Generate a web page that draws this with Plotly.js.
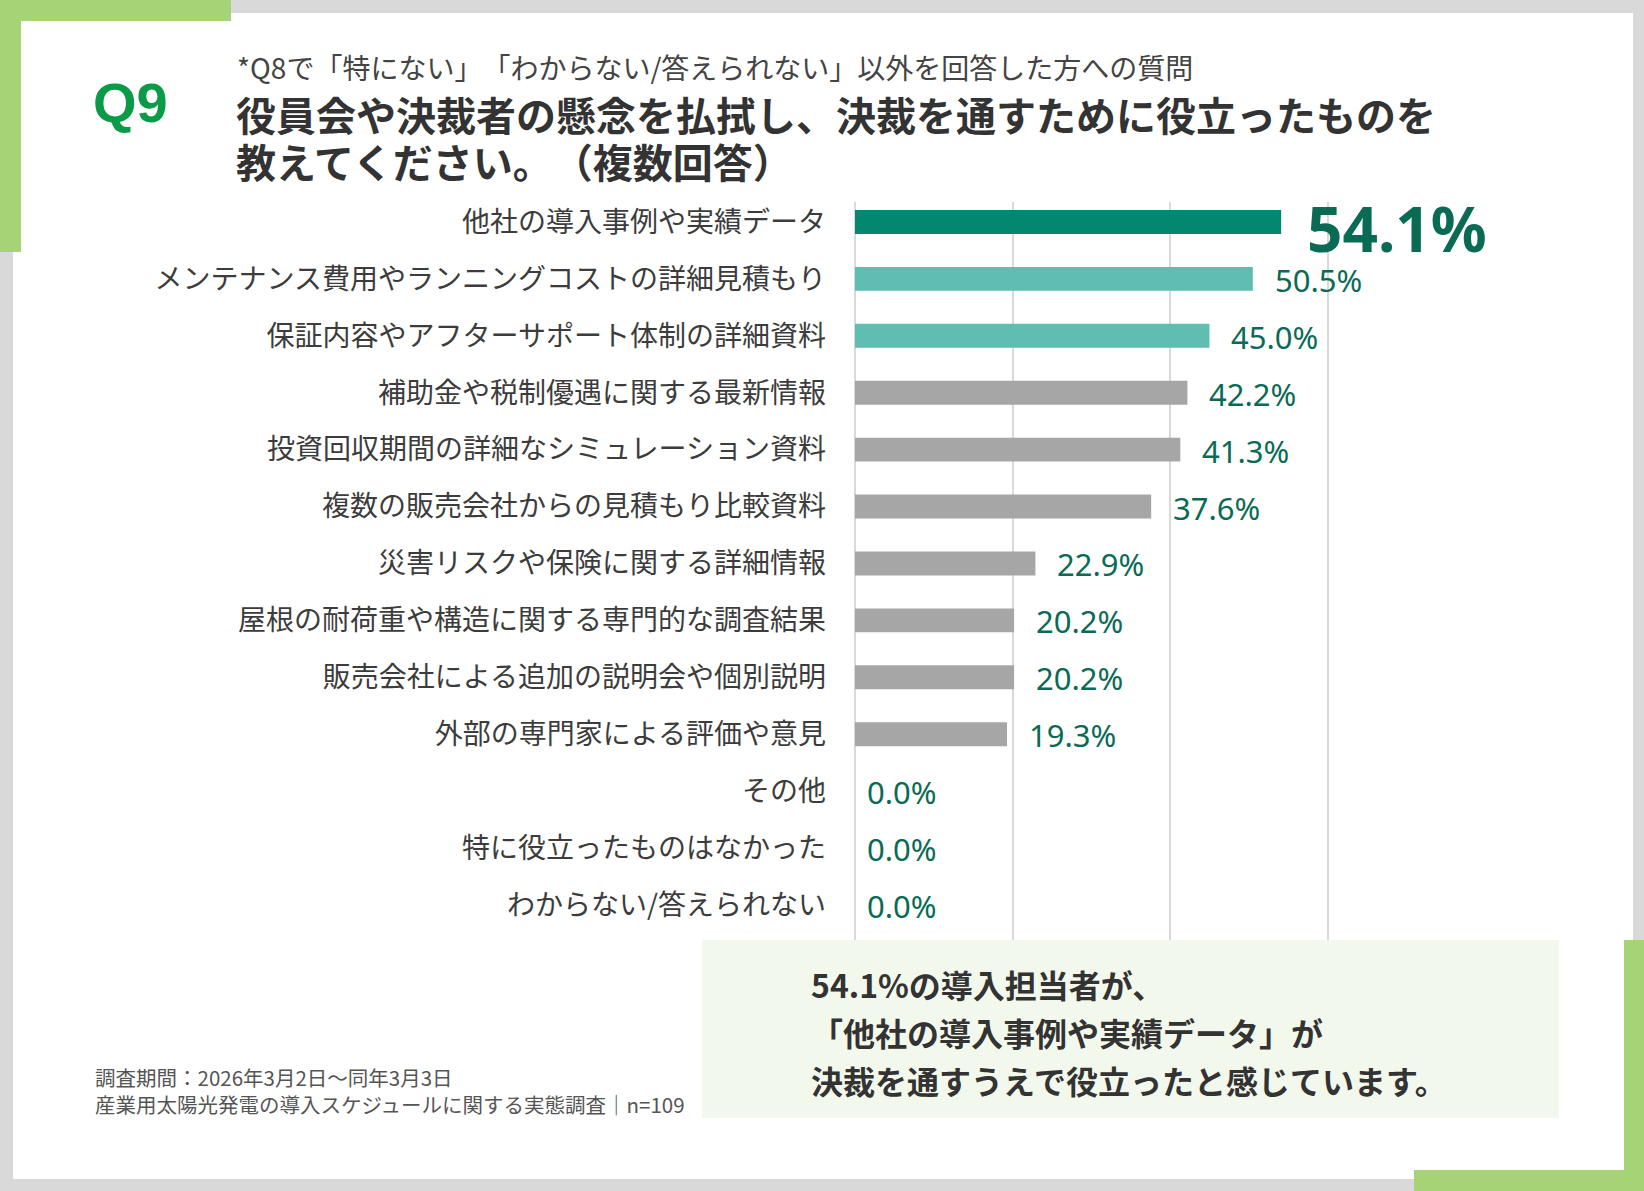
<!DOCTYPE html>
<html lang="ja">
<head>
<meta charset="utf-8">
<title>Q9 決裁を通すために役立ったもの</title>
<script src="https://cdn.plot.ly/plotly-3.0.1.min.js"></script>
<style>
  html, body { margin: 0; padding: 0; background: #d9d9d9; }
  #chart { width: 1644px; height: 1191px; }
  /* keep full-width brackets at full width (also for Plotly's text measuring) */
  * { text-spacing-trim: space-all; }
</style>
</head>
<body>
<div id="chart"></div>
<script>
/* Q9 - 役立ったもの（複数回答） */

const categories = [
  "他社の導入事例や実績データ",
  "メンテナンス費用やランニングコストの詳細見積もり",
  "保証内容やアフターサポート体制の詳細資料",
  "補助金や税制優遇に関する最新情報",
  "投資回収期間の詳細なシミュレーション資料",
  "複数の販売会社からの見積もり比較資料",
  "災害リスクや保険に関する詳細情報",
  "屋根の耐荷重や構造に関する専門的な調査結果",
  "販売会社による追加の説明会や個別説明",
  "外部の専門家による評価や意見",
  "その他",
  "特に役立ったものはなかった",
  "わからない/答えられない",
];

const values = [54.1, 50.5, 45.0, 42.2, 41.3, 37.6, 22.9, 20.2, 20.2, 19.3, 0.0, 0.0, 0.0];

const gridTicks = [0, 20, 40, 60];

const subtitleText = "*Q8で「特にない」「わからない/答えられない」以外を回答した方への質問";
const titleLines = [
  "役員会や決裁者の懸念を払拭し、決裁を通すために役立ったものを",
  "教えてください。（複数回答）",
];
const summaryLines = [
  "54.1%の導入担当者が、",
  "「他社の導入事例や実績データ」が",
  "決裁を通すうえで役立ったと感じています。",
];
const footerLines = [
  "調査期間：2026年3月2日～同年3月3日",
  "産業用太陽光発電の導入スケジュールに関する実態調査｜n=109",
];

const COLORS = {
  top: "#03876f",
  second: "#5fbdb1",
  rest: "#a6a6a6",
  label: "#0a6b55",
  frame: "#d9d9d9",
  accent: "#a6d375",
  q: "#0a9a48",
  text: "#333333",
  grid: "#d9d9d9",
  box: "#f3f8ec",
};

const JP = "'Noto Sans CJK JP', 'Noto Sans', sans-serif";
const NUM = "'Noto Sans', 'Open Sans', sans-serif";

// plot area in page pixels
const PLOT = { l: 855, t: 202, w: 475, h: 738, W: 1644, H: 1191 };
const fx = (x) => (x - PLOT.l) / PLOT.w;
const fy = (y) => 1 - (y - PLOT.t) / PLOT.h;

document.addEventListener("DOMContentLoaded", () => {
  renderChart();
});

function rect(x0, y0, x1, y1, color, layer) {
  return {
    type: "rect",
    xref: "paper",
    yref: "paper",
    x0: fx(x0),
    x1: fx(x1),
    y0: fy(y0),
    y1: fy(y1),
    fillcolor: color,
    line: { width: 0 },
    layer: layer || "below",
  };
}

function textAt(x, y, text, font, extra) {
  return {
    xref: "paper",
    yref: "paper",
    x: fx(x),
    y: fy(y),
    text: text,
    showarrow: false,
    xanchor: "left",
    yanchor: "middle",
    font: font,
    ...extra,
  };
}

function renderChart() {
  const barColors = values.map((_, i) =>
    i === 0 ? COLORS.top : i < 3 ? COLORS.second : COLORS.rest,
  );

  const trace = {
    type: "bar",
    orientation: "h",
    x: values,
    y: categories,
    marker: { color: barColors, line: { width: 0 } },
    hovertemplate: "%{y}: %{x:.1f}%<extra></extra>",
  };

  const valueLabels = values.map((value, i) => ({
    x: value,
    y: categories[i],
    xref: "x",
    yref: "y",
    text: value.toFixed(1) + "%",
    showarrow: false,
    xanchor: "left",
    yanchor: "middle",
    xshift: i === 0 ? 24 : value > 0 ? 20 : 10,
    yshift: i === 0 ? -6 : -1,
    font:
      i === 0
        ? { family: NUM, size: 62, color: COLORS.label, weight: 700 }
        : { family: NUM, size: 31, color: COLORS.label },
  }));

  const titleFont = { family: JP, size: 40, color: COLORS.text, weight: 700 };
  const summaryFont = { family: JP, size: 32, color: COLORS.text, weight: 700 };
  const footerFont = { family: JP, size: 20.5, color: "#555555" };

  const pageTexts = [
    textAt(91, 103, "Q9", {
      family: "'Liberation Sans', Arial, sans-serif",
      size: 56,
      color: COLORS.q,
      weight: 700,
    }),
    textAt(235, 67, subtitleText, { family: JP, size: 28, color: "#444444" }),
    textAt(234, 114, titleLines[0], titleFont),
    textAt(234, 161, titleLines[1], titleFont),
    textAt(809, 984, summaryLines[0], summaryFont),
    textAt(809, 1032, summaryLines[1], summaryFont),
    textAt(809, 1080, summaryLines[2], summaryFont),
    textAt(93, 1077, footerLines[0], footerFont),
    textAt(93, 1104, footerLines[1], footerFont),
  ];

  const layout = {
    width: PLOT.W,
    height: PLOT.H,
    margin: {
      l: PLOT.l,
      t: PLOT.t,
      r: PLOT.W - PLOT.l - PLOT.w,
      b: PLOT.H - PLOT.t - PLOT.h,
      pad: 0,
    },
    paper_bgcolor: COLORS.frame,
    plot_bgcolor: "rgba(0,0,0,0)",
    showlegend: false,
    bargap: 0.58,
    font: { family: JP },
    xaxis: {
      range: [0, 60.3],
      tickvals: gridTicks,
      showticklabels: false,
      showgrid: true,
      gridcolor: COLORS.grid,
      gridwidth: 2,
      zeroline: true,
      zerolinecolor: COLORS.grid,
      zerolinewidth: 2,
      fixedrange: true,
    },
    yaxis: {
      type: "category",
      categoryorder: "array",
      categoryarray: categories,
      range: [12.615, -0.35],
      autorange: false,
      showgrid: false,
      zeroline: false,
      ticks: "",
      ticklabelstandoff: 28,
      tickfont: { family: JP, size: 28, color: "#3c3c3c" },
      fixedrange: true,
    },
    shapes: [
      rect(13, 13, 1633, 1179, "#ffffff"),
      rect(0, 0, 231, 21, COLORS.accent),
      rect(0, 0, 21, 252, COLORS.accent),
      rect(1624, 940, 1644, 1191, COLORS.accent),
      rect(1414, 1170, 1644, 1191, COLORS.accent),
      rect(702, 940, 1559, 1118, COLORS.box, "above"),
    ],
    annotations: [...valueLabels, ...pageTexts],
  };

  Plotly.newPlot("chart", [trace], layout, {
    displayModeBar: false,
    staticPlot: true,
  });
}
</script>
</body>
</html>
